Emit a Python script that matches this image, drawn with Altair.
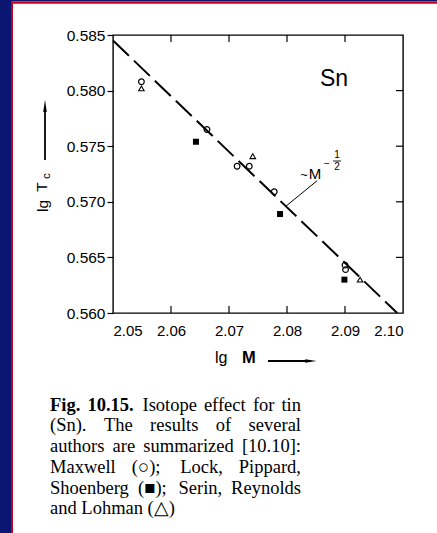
import altair as alt
import pandas as pd

# ---- data ----
circle_x = [2.0549, 2.0662, 2.0714, 2.0735, 2.0778, 2.0900, 2.0901]
circle_y = [0.5808, 0.5765, 0.5732, 0.5732, 0.5709, 0.5643, 0.5639]
tri_x = [2.0549, 2.0741, 2.0926]
tri_y = [0.5802, 0.5741, 0.5630]
sq_x = [2.0643, 2.0788, 2.0899]
sq_y = [0.5754, 0.5689, 0.5630]
fit_x = [2.050, 2.099]
fit_y = [0.5845, 0.5600]
leader_x = [2.0798, 2.0852]
leader_y = [0.5696, 0.5719]
x_ticks = [2.05, 2.06, 2.07, 2.08, 2.09, 2.10]
y_ticks = [0.560, 0.565, 0.570, 0.575, 0.580, 0.585]
inner_x_ticks = [2.06, 2.07, 2.08, 2.09]
inner_y_ticks = [0.565, 0.570, 0.575, 0.580]

caption_lines = [
    ["Fig.", "10.15.", "Isotope", "effect", "for", "tin"],
    ["(Sn).", "The", "results", "of", "several"],
    ["authors", "are", "summarized", "[10.10]:"],
    ["Maxwell", "(\u25cb);", "Lock,", "Pippard,"],
    ["Shoenberg", "(\u25a0);", "Serin,", "Reynolds"],
    ["and", "Lohman", "(\u25b3)"],
]
caption_bold_words = 2  # first two words of the first line are bold
caption_y = [405, 425, 446, 467, 488, 508]

W, H = 290, 278
L, T = 113, 35
SANS = "Liberation Sans"
SERIF = "Liberation Serif"
CAP_SIZE = 18.5
CAP_LEFT, CAP_RIGHT = 50, 301

# Times New Roman advance widths (1/1000 em) for laying out justified caption lines
_tw = {" ": 250, "(": 333, ")": 333, ".": 250, ",": 250, ":": 278, ";": 278, "[": 333, "]": 333,
       "\u25cb": 800, "\u25a0": 760, "\u25b3": 800}
for ch in "0123456789":
    _tw[ch] = 500
_tw.update(dict(zip("abcdefghijklmnopqrstuvwxyz",
                    [444, 500, 444, 500, 444, 333, 500, 500, 278, 278, 500, 278, 778, 500, 500,
                     500, 500, 333, 389, 278, 500, 500, 722, 500, 500, 444])))
_tw.update(dict(zip("ABCDEFGHIJKLMNOPQRSTUVWXYZ",
                    [722, 667, 667, 722, 611, 556, 722, 722, 333, 389, 722, 611, 889, 722, 722,
                     556, 722, 667, 556, 611, 722, 722, 944, 722, 722, 611])))


def word_w(w, size, bold=False):
    f = 1.04 if bold else 1.0
    return sum(_tw.get(c, 500) for c in w) / 1000.0 * size * f


xs = alt.Scale(domain=[2.05, 2.10], nice=False, zero=False)
ys = alt.Scale(domain=[0.560, 0.585], nice=False, zero=False)

one = pd.DataFrame({"a": [0]})


def txt(s, x, y, size, font=SANS, weight="normal", align="left", angle=0, baseline="middle"):
    kw = dict(text=s, fontSize=size, font=font, fontWeight=weight, align=align,
              baseline=baseline, color="black")
    if angle:
        kw["angle"] = angle
    return alt.Chart(one).mark_text(**kw).encode(x=alt.value(x - L), y=alt.value(y - T))


def box(x1, y1, x2, y2, color):
    return alt.Chart(one).mark_rect(color=color).encode(
        x=alt.value(x1 - L), x2=alt.value(x2 - L), y=alt.value(y1 - T), y2=alt.value(y2 - T))


BLUE = "#0b1672"
RED = "#c8001e"
frame = [
    box(0, 0, 437, 1.5, BLUE),
    box(0, 0, 11, 533, BLUE),
    box(11, 1.5, 437, 3.8, RED),
    box(11, 1.5, 13, 533, RED),
]

circles = pd.DataFrame({"x": circle_x, "y": circle_y})
tris = pd.DataFrame({"x": tri_x, "y": tri_y})
sqs = pd.DataFrame({"x": sq_x, "y": sq_y})
fit = pd.DataFrame({"x": fit_x, "y": fit_y})
leader = pd.DataFrame({"x": [leader_x[0]], "y": [leader_y[0]], "x2": [leader_x[1]], "y2": [leader_y[1]]})

base_axes = alt.Chart(pd.DataFrame({"x": [2.05], "y": [0.56]})).mark_point(opacity=0).encode(
    x=alt.X("x:Q", scale=xs, title=None,
            axis=alt.Axis(values=x_ticks, format=".2f", ticks=False, domain=False, grid=False,
                          labelFont=SANS, labelFontSize=15, labelColor="black", labelPadding=10,
                          zindex=1)),
    y=alt.Y("y:Q", scale=ys, title=None,
            axis=alt.Axis(values=y_ticks, format=".3f", tickSize=6, tickColor="black", tickWidth=1.2,
                          domain=False, grid=False, labelFont=SANS, labelFontSize=15.5,
                          labelColor="black", labelPadding=2, zindex=1)),
)

fit_line = alt.Chart(fit).mark_line(color="black", strokeWidth=2, strokeDash=[22, 7]).encode(
    x=alt.X("x:Q", scale=xs), y=alt.Y("y:Q", scale=ys))

leader_line = alt.Chart(leader).mark_rule(color="black", strokeWidth=1).encode(
    x=alt.X("x:Q", scale=xs), y=alt.Y("y:Q", scale=ys), x2="x2:Q", y2="y2:Q")

circ = alt.Chart(circles).mark_point(shape="circle", size=32, filled=False, color="black",
                                     strokeWidth=1.2, opacity=1).encode(
    x=alt.X("x:Q", scale=xs), y=alt.Y("y:Q", scale=ys))
tri = alt.Chart(tris).mark_point(shape="triangle-up", size=30, filled=False, color="black",
                                 strokeWidth=1.1, opacity=1).encode(
    x=alt.X("x:Q", scale=xs), y=alt.Y("y:Q", scale=ys))
sq = alt.Chart(sqs).mark_point(shape="square", size=36, filled=True, color="black", opacity=1).encode(
    x=alt.X("x:Q", scale=xs), y=alt.Y("y:Q", scale=ys))

tx = pd.DataFrame({"v": inner_x_ticks})
ty = pd.DataFrame({"v": inner_y_ticks})
top_ticks = alt.Chart(tx).mark_rule(color="black", strokeWidth=1.2).encode(
    x=alt.X("v:Q", scale=xs), y=alt.value(0), y2=alt.value(7))
bot_ticks = alt.Chart(tx).mark_rule(color="black", strokeWidth=1.2).encode(
    x=alt.X("v:Q", scale=xs), y=alt.value(H), y2=alt.value(H - 7))
right_ticks = alt.Chart(ty).mark_rule(color="black", strokeWidth=1.2).encode(
    y=alt.Y("v:Q", scale=ys), x=alt.value(W), x2=alt.value(W - 7))

# arrows
arrow_up = alt.Chart(one).mark_rule(color="black", strokeWidth=1.8).encode(
    x=alt.value(45 - L), x2=alt.value(45 - L), y=alt.value(160 - T), y2=alt.value(112 - T))
head_up = alt.Chart(one).mark_point(shape="wedge", filled=True, color="black",
                                    size=200, opacity=1).encode(
    x=alt.value(45 - L), y=alt.value(108 - T))
arrow_right = alt.Chart(one).mark_rule(color="black", strokeWidth=1.8).encode(
    x=alt.value(268 - L), x2=alt.value(306 - L), y=alt.value(361 - T), y2=alt.value(361 - T))
head_right = alt.Chart(one).mark_point(shape="wedge", angle=90, filled=True, color="black",
                                       size=170, opacity=1).encode(
    x=alt.value(309 - L), y=alt.value(361 - T))

frac_bar = alt.Chart(one).mark_rule(color="black", strokeWidth=0.9).encode(
    x=alt.value(333 - L), x2=alt.value(341 - L), y=alt.value(161 - T), y2=alt.value(161 - T))

texts = [
    txt("Sn", 334, 79, 23, align="center"),
    txt("~", 304, 175, 13, align="center"),
    txt("M", 315, 174, 15, align="center"),
    txt("\u2212", 327, 164, 10, align="center"),
    txt("1", 337, 155, 10, align="center"),
    txt("2", 337, 167, 10, align="center"),
    txt("lg", 43, 206, 15.5, align="center", angle=270),
    txt("T", 42, 187, 15.5, align="center", angle=270),
    txt("c", 47, 176, 11.5, align="center", angle=270),
    txt("lg", 215, 358, 16),
    txt("M", 242, 358, 16.5, weight="bold"),
]

# justified caption: each word placed along its line
for li, words in enumerate(caption_lines):
    bold = [(li == 0 and wi < caption_bold_words) for wi in range(len(words))]
    widths = [word_w(w, CAP_SIZE, b) for w, b in zip(words, bold)]
    if li == len(caption_lines) - 1:
        gap = word_w(" ", CAP_SIZE)
    else:
        gap = (CAP_RIGHT - CAP_LEFT - sum(widths)) / (len(words) - 1)
    xpos = CAP_LEFT
    for w, b, ww in zip(words, bold, widths):
        texts.append(txt(w, xpos, caption_y[li], CAP_SIZE, font=SERIF,
                         weight="bold" if b else "normal"))
        xpos += ww + gap

chart = alt.layer(
    *frame, base_axes, top_ticks, bot_ticks, right_ticks, fit_line, leader_line, circ, tri, sq,
    arrow_up, head_up, arrow_right, head_right, frac_bar, *texts
).properties(
    width=W, height=H,
    padding={"left": L, "top": T, "right": 437 - L - W, "bottom": 533 - T - H},
    autosize=alt.AutoSizeParams(type="none"),
    background="white",
).configure_view(stroke="black", strokeWidth=1.4, fill="white")

chart.save("out.html", embed_options={"renderer": "svg", "actions": False})
